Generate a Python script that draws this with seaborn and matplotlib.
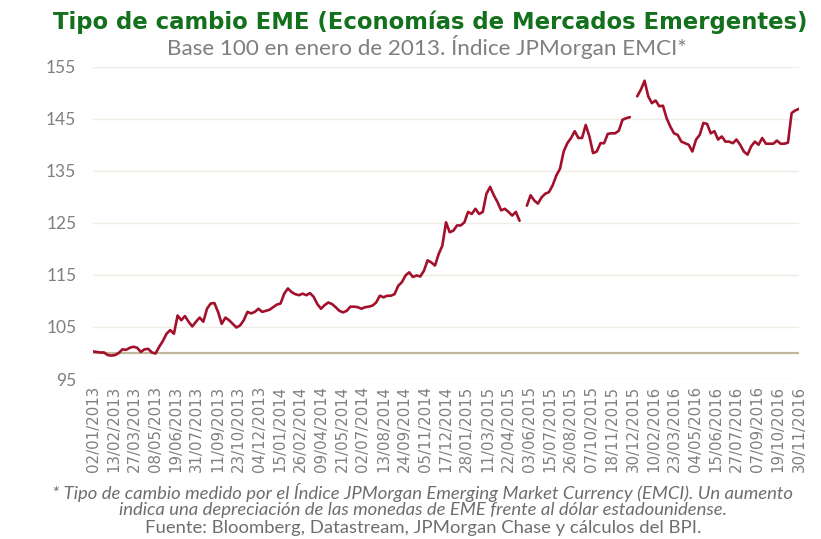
import numpy as np
import pandas as pd
import matplotlib.pyplot as plt
import seaborn as sns

# Indice JPMorgan EMCI, base 100 = enero 2013 (lecturas regulares, NaN = hueco en la serie)
emci = [
    100.3, 100.2, 100.1, 100.1, 99.6, 99.5, 99.6, 100.0, 100.7, 100.6,
    101.0, 101.2, 101.0, 100.2, 100.7, 100.8, 100.1, 99.9, 101.2, 102.3,
    103.7, 104.4, 103.7, 107.2, 106.3, 107.1, 106.0, 105.1, 106.0, 106.8,
    106.0, 108.5, 109.5, 109.6, 107.9, 105.6, 106.8, 106.3, 105.6, 104.9,
    105.3, 106.3, 107.9, 107.6, 107.9, 108.5, 107.9, 108.1, 108.3, 108.8,
    109.3, 109.5, 111.4, 112.4, 111.7, 111.3, 111.1, 111.4, 111.1, 111.5,
    110.8, 109.4, 108.5, 109.2, 109.7,
    109.4, 108.8, 108.1, 107.8, 108.1, 108.9, 108.9, 108.8, 108.5, 108.8,
    108.9, 109.1, 109.7, 111.0, 110.7, 111.0, 111.0, 111.3, 112.9, 113.6,
    114.9, 115.5, 114.6, 114.9, 114.7, 115.8, 117.8, 117.4, 116.8, 119.0,
    120.6, 125.1, 123.2, 123.5, 124.5, 124.5, 125.1, 127.1, 126.7, 127.7,
    126.7, 127.1, 130.6, 131.9, 130.3, 129.0, 127.4, 127.7, 127.1, 126.4,
    127.1, 125.4, np.nan, 128.3, 130.3, 129.3, 128.7, 129.9, 130.6, 130.9,
    132.2, 134.1, 135.4,
    138.7, 140.3,
    141.3, 142.6, 141.3, 141.3, 143.8, 141.6, 138.4, 138.7, 140.3, 140.3,
    142.1, 142.2, 142.2, 142.7, 144.8, 145.1, 145.3, np.nan, 149.3, 150.6,
    152.3, 149.3, 148.0, 148.5, 147.4, 147.5, 145.1, 143.5, 142.2, 141.9,
    140.6, 140.3, 140.0, 138.7, 141.0, 141.9, 144.2, 144.0, 142.2, 142.6,
    141.0, 141.6, 140.6, 140.6, 140.3, 141.0, 140.0, 138.7, 138.1, 139.7,
    140.6, 140.0, 141.3, 140.2, 140.2, 140.2, 140.8, 140.2, 140.2, 140.4,
    146.1, 146.6, 146.9,
]

# etiquetas del eje x: una cada 30 dias habiles
fechas = [
    "02/01/2013", "13/02/2013", "27/03/2013", "08/05/2013", "19/06/2013",
    "31/07/2013", "11/09/2013", "23/10/2013", "04/12/2013", "15/01/2014",
    "26/02/2014", "09/04/2014", "21/05/2014", "02/07/2014", "13/08/2014",
    "24/09/2014", "05/11/2014", "17/12/2014", "28/01/2015", "11/03/2015",
    "22/04/2015", "03/06/2015", "15/07/2015", "26/08/2015", "07/10/2015",
    "18/11/2015", "30/12/2015", "10/02/2016", "23/03/2016", "04/05/2016",
    "15/06/2016", "27/07/2016", "07/09/2016", "19/10/2016", "30/11/2016",
]
dias_entre_fechas = 30
yticks = [95, 105, 115, 125, 135, 145, 155]
base = 100

titulo = "Tipo de cambio EME (Economías de Mercados Emergentes)"
subtitulo = "Base 100 en enero de 2013. Índice JPMorgan EMCI*"
nota = [
    "* Tipo de cambio medido por el Índice JPMorgan Emerging Market Currency (EMCI). Un aumento",
    "indica una depreciación de las monedas de EME frente al dólar estadounidense.",
]
fuente = "Fuente: Bloomberg, Datastream, JPMorgan Chase y cálculos del BPI."

GRAY = "#7f7f7f"
NOTE_GRAY = "#6e6e6e"

# dias habiles desde 02/01/2013
n_dias = (len(fechas) - 1) * dias_entre_fechas
df = pd.DataFrame({"dia": np.linspace(0, n_dias, len(emci)), "emci": emci})
df["tramo"] = df["emci"].isna().cumsum()
df = df.dropna()

sns.set_style("white")
plt.rcParams["font.family"] = ["Lato", "DejaVu Sans"]

fig = plt.figure(figsize=(8.21, 5.39), dpi=100)
ax = fig.add_axes([0.1133, 0.2968, 0.8599, 0.5795])

sns.lineplot(data=df, x="dia", y="emci", units="tramo", estimator=None,
             color="#a3102c", lw=1.9, ax=ax, zorder=3)
ax.axhline(base, color="#c2b79a", lw=1.6, zorder=2)

ax.set_xlim(0, n_dias)
ax.set_ylim(95, 155)
ax.set_yticks(yticks)
ax.set_yticklabels([str(v) for v in yticks], fontsize=12.5, color=GRAY)
ax.set_xticks(np.arange(len(fechas)) * dias_entre_fechas)
ax.set_xticklabels(fechas, rotation=90, fontsize=10.8, color=GRAY, family="DejaVu Sans")
ax.tick_params(axis="y", length=0, pad=12)
ax.tick_params(axis="x", length=0, pad=5)
ax.grid(axis="y", color="#eeede3", lw=1)
ax.set_xlabel("")
ax.set_ylabel("")
sns.despine(ax=ax, left=True, bottom=True)

fig.text(0.524, 0.959, titulo, ha="center", va="center", fontsize=16.4,
         fontweight="bold", color="#13701c", family="DejaVu Sans")
fig.text(0.520, 0.913, subtitulo, ha="center", va="center", fontsize=16.2, color=GRAY)
fig.text(0.515, 0.087, nota[0], ha="center", va="center", fontsize=13.3,
         style="italic", color=NOTE_GRAY)
fig.text(0.515, 0.054, nota[1], ha="center", va="center", fontsize=13.3,
         style="italic", color=NOTE_GRAY)
fig.text(0.515, 0.021, fuente, ha="center", va="center", fontsize=13.3, color=NOTE_GRAY)

fig.savefig("out.png", dpi=100)
